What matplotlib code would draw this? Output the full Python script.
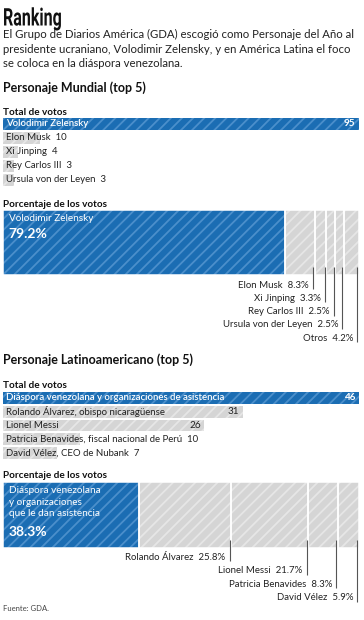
import matplotlib
matplotlib.use("Agg")
import matplotlib.pyplot as plt
from matplotlib.transforms import blended_transform_factory, Affine2D
from matplotlib.patheffects import AbstractPathEffect
import numpy as np

# ---------------- data ----------------
world_names = ["Volodimir Zelensky", "Elon Musk", "Xi Jinping", "Rey Carlos III", "Ursula von der Leyen"]
world_votes = [95, 10, 4, 3, 3]
world_pct_names = ["Volodimir Zelensky", "Elon Musk", "Xi Jinping", "Rey Carlos III", "Ursula von der Leyen", "Otros"]
world_pct = [79.2, 8.3, 3.3, 2.5, 2.5, 4.2]

latam_names = ["Diáspora venezolana y organizaciones de asistencia",
               "Rolando Álvarez, obispo nicaragüense",
               "Lionel Messi",
               "Patricia Benavides, fiscal nacional de Perú",
               "David Vélez, CEO de Nubank"]
latam_votes = [46, 31, 26, 10, 7]
latam_pct_names = ["Diáspora venezolana\ny organizaciones\nque le dan asistencia",
                   "Rolando Álvarez", "Lionel Messi", "Patricia Benavides", "David Vélez"]
latam_pct = [38.3, 25.8, 21.7, 8.3, 5.9]

title = "Ranking"
subtitle = ("El Grupo de Diarios América (GDA) escogió como Personaje del Año al\n"
            "presidente ucraniano, Volodimir Zelensky, y en América Latina el foco\n"
            "se coloca en la diáspora venezolana.")
sec1 = "Personaje Mundial (top 5)"
sec2 = "Personaje Latinoamericano (top 5)"
lab_total = "Total de votos"
lab_pct = "Porcentaje de los votos"
source = "Fuente: GDA."

# ---------------- style ----------------
BLUE = "#1b6db3"
BLUE_STRIPE = "#4b8fcb"
GREY = "#d5d5d5"
GREY_STRIPE = "#e6e6e6"
TXT = "#222222"
FONT = "Lato"
FS = 6.9
plt.rcParams["font.family"] = [FONT, "DejaVu Sans"]
plt.rcParams["hatch.linewidth"] = 1.3

W, H = 364, 620
fig = plt.figure(figsize=(W / 100, H / 100), dpi=100)
fig.patch.set_facecolor("white")


class Squeeze(AbstractPathEffect):
    """Horizontally condense glyphs (text stays a real Text artist)."""

    def __init__(self, sx):
        super().__init__()
        self.sx = sx

    def draw_path(self, renderer, gc, tpath, affine, rgbFace=None):
        renderer.draw_path(gc, tpath, Affine2D().scale(self.sx, 1) + affine, rgbFace)


def fx(x):
    return x / W


def fy(y):
    return 1 - y / H


def add_ax(x0, y0, x1, y1):
    ax = fig.add_axes([fx(x0), fy(y1), (x1 - x0) / W, (y1 - y0) / H])
    ax.set_axis_off()
    return ax


# ---------------- header text ----------------
fig.text(fx(3), fy(25.5), title, fontsize=17.5, fontweight="bold",
         family=["Roboto", "DejaVu Sans"], color="#111111", va="baseline",
         path_effects=[Squeeze(0.66)])
fig.text(fx(3), fy(29), subtitle, fontsize=8.2, color=TXT, va="top", linespacing=1.4)
fig.text(fx(3), fy(92), sec1, fontsize=9.0, fontweight="bold", color="#111111", va="baseline")
fig.text(fx(3), fy(115), lab_total, fontsize=7.2, fontweight="bold", color="#111111", va="baseline")
fig.text(fx(3), fy(207), lab_pct, fontsize=7.2, fontweight="bold", color="#111111", va="baseline")
fig.text(fx(3), fy(364), sec2, fontsize=9.0, fontweight="bold", color="#111111", va="baseline")
fig.text(fx(3), fy(388), lab_total, fontsize=7.2, fontweight="bold", color="#111111", va="baseline")
fig.text(fx(3), fy(478), lab_pct, fontsize=7.2, fontweight="bold", color="#111111", va="baseline")
fig.text(fx(3), fy(611), source, fontsize=5.5, color="#444444", va="baseline")


# ---------------- total-votes bars ----------------
def total_chart(ax, names, votes):
    n = len(votes)
    y = np.arange(n)
    colors = [BLUE] + [GREY] * (n - 1)
    stripes = [BLUE_STRIPE] + [GREY_STRIPE] * (n - 1)
    ax.barh(y, votes, height=0.86, color=colors, edgecolor=stripes, linewidth=0, hatch="///")
    ax.set_xlim(0, max(votes))
    ax.set_ylim(n - 0.5, -0.5)
    for i, (nm, v) in enumerate(zip(names, votes)):
        first = i == 0
        c = "white" if first else TXT
        inside = v / max(votes) > 0.4
        label = nm if inside else f"{nm}  {v}"
        ax.annotate(label, xy=(0, i), xytext=(2, 0), textcoords="offset points",
                    ha="left", va="center", fontsize=FS, color=c,
                    fontweight="semibold" if first else "normal")
        if inside:
            ax.annotate(str(v), xy=(v, i), xytext=(-2.5, 0), textcoords="offset points",
                        ha="right", va="center", fontsize=FS + 0.3, color=c,
                        fontweight="bold" if first else "normal")


ax1 = add_ax(3, 117, 359, 187)
total_chart(ax1, world_names, world_votes)
ax3 = add_ax(3, 391, 359, 460)
total_chart(ax3, latam_names, latam_votes)


# ---------------- percentage stacked bars ----------------
def pct_chart(ax, names, pct, bar_h_px, step_px, first_lab_px):
    n = len(pct)
    lefts = np.concatenate([[0], np.cumsum(pct)[:-1]])
    colors = [BLUE] + [GREY] * (n - 1)
    stripes = [BLUE_STRIPE] + [GREY_STRIPE] * (n - 1)
    ax.barh(0, pct, left=lefts, height=1, color=colors, edgecolor=stripes,
            linewidth=0, hatch="///")
    ax.barh(0, pct, left=lefts, height=1, fill=False, edgecolor="white", linewidth=1.1)
    ax.set_xlim(0, sum(pct))
    ax.set_ylim(-0.5, 0.5)
    tr = blended_transform_factory(ax.transData, ax.transAxes)
    # leader labels
    for k in range(1, n):
        xr = lefts[k] + pct[k] - 0.45
        ylab = -(first_lab_px + (k - 1) * step_px) / bar_h_px
        ax.plot([xr, xr], [0.12, ylab - 4 / bar_h_px], transform=tr, color="#555555",
                lw=0.8, clip_on=False, solid_capstyle="butt")
        ax.annotate(f"{names[k]}  {pct[k]:.1f}%", xy=(xr, ylab), xycoords=tr,
                    xytext=(-3, 0), textcoords="offset points", ha="right", va="center",
                    fontsize=FS, color=TXT, annotation_clip=False)
    # main label inside blue
    ax.annotate(names[0], xy=(0, 1), xycoords="axes fraction", xytext=(4, -3),
                textcoords="offset points", ha="left", va="top", fontsize=FS + 0.3,
                color="white", linespacing=1.35)
    nlines = names[0].count("\n") + 1
    ax.annotate(f"{pct[0]:.1f}%", xy=(0, 1), xycoords="axes fraction",
                xytext=(4, -3 - nlines * 9.6), textcoords="offset points",
                ha="left", va="top", fontsize=10, fontweight="bold", color="white")


ax2 = add_ax(3, 210, 359, 275)
pct_chart(ax2, world_pct_names, world_pct, 65, 13.3, 10)
ax4 = add_ax(3, 482, 359, 548)
pct_chart(ax4, latam_pct_names, latam_pct, 66, 13.6, 9)

fig.savefig("out.png", dpi=100, facecolor="white")
